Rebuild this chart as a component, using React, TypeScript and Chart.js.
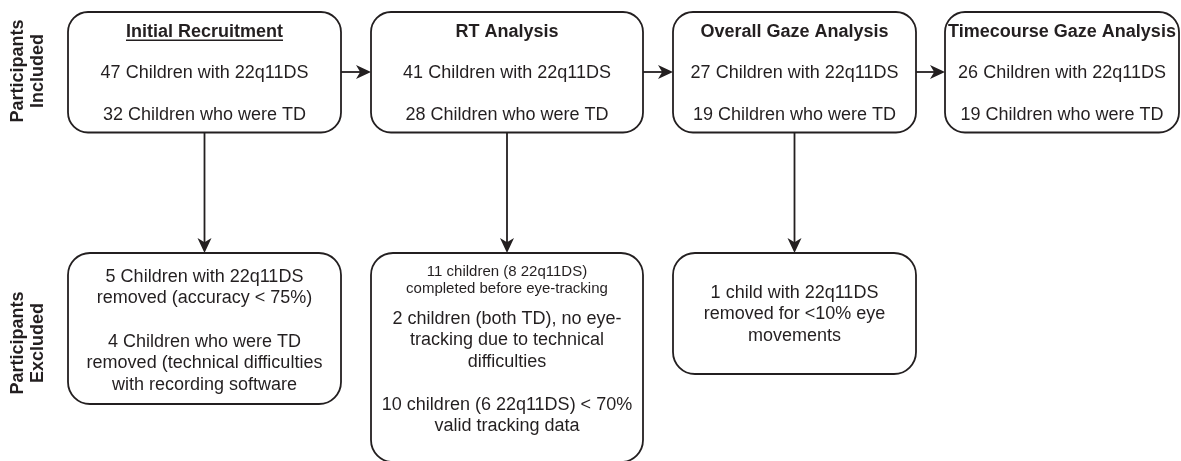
import React, { useEffect, useRef } from "react";
import { Chart, registerables } from "chart.js";

Chart.register(...registerables);

// ---------- DATA ----------
const stages = [
  "Initial Recruitment",
  "RT Analysis",
  "Overall Gaze Analysis",
  "Timecourse Gaze Analysis",
];
const included22q = [47, 41, 27, 26];
const includedTD = [32, 28, 19, 19];
const exclusionNotes: string[][][] = [
  [
    ["5 Children with 22q11DS", "removed (accuracy < 75%)"],
    ["4 Children who were TD", "removed (technical difficulties", "with recording software"],
  ],
  [
    ["11 children (8 22q11DS)", "completed before eye-tracking"],
    ["2 children (both TD), no eye-", "tracking due to technical", "difficulties"],
    ["10 children (6 22q11DS) < 70%", "valid tracking data"],
  ],
  [["1 child with 22q11DS", "removed for <10% eye", "movements"]],
];
const rowLabels = [
  ["Participants", "Included"],
  ["Participants", "Excluded"],
];

// ---------- LAYOUT (pixel-unit scale space) ----------
const W = 1181;
const H = 461;
const colLeft = [68, 371, 673, 945];
const colRight = [341, 643, 916, 1179];
const topBox = { top: 12, bottom: 132.5 };
const bottomTop = 253;
const bottomEnd = [404, 462, 374];
const titleY = 32;
const line1Y = 73;
const line2Y = 115;
const noteLayouts: { y: number; size: number; lh: number }[][] = [
  [
    { y: 277, size: 18, lh: 21.5 },
    { y: 342, size: 18, lh: 21.5 },
  ],
  [
    { y: 272, size: 15, lh: 17 },
    { y: 319, size: 18, lh: 21.5 },
    { y: 405, size: 18, lh: 21.5 },
  ],
  [{ y: 293, size: 18, lh: 21.5 }],
];

const INK = "#231f20";
const FONT = "'Liberation Sans', Arial, Helvetica, sans-serif";

function roundRect(ctx: CanvasRenderingContext2D, x0: number, y0: number, x1: number, y1: number, r: number) {
  ctx.beginPath();
  ctx.moveTo(x0 + r, y0);
  ctx.lineTo(x1 - r, y0);
  ctx.arcTo(x1, y0, x1, y0 + r, r);
  ctx.lineTo(x1, y1 - r);
  ctx.arcTo(x1, y1, x1 - r, y1, r);
  ctx.lineTo(x0 + r, y1);
  ctx.arcTo(x0, y1, x0, y1 - r, r);
  ctx.lineTo(x0, y0 + r);
  ctx.arcTo(x0, y0, x0 + r, y0, r);
  ctx.closePath();
}

function arrow(ctx: CanvasRenderingContext2D, x0: number, y0: number, x1: number, y1: number) {
  const len = Math.hypot(x1 - x0, y1 - y0);
  const dx = (x1 - x0) / len;
  const dy = (y1 - y0) / len;
  const nx = -dy;
  const ny = dx;
  const L = 15;
  const hw = 7;
  ctx.beginPath();
  ctx.moveTo(x0, y0);
  ctx.lineTo(x1 - dx * L * 0.6, y1 - dy * L * 0.6);
  ctx.stroke();
  ctx.beginPath();
  ctx.moveTo(x1, y1);
  ctx.lineTo(x1 - dx * L + nx * hw, y1 - dy * L + ny * hw);
  ctx.lineTo(x1 - dx * L * 0.72, y1 - dy * L * 0.72);
  ctx.lineTo(x1 - dx * L - nx * hw, y1 - dy * L - ny * hw);
  ctx.closePath();
  ctx.fill();
}

const flowPlugin = {
  id: "flow",
  afterDraw(chart: any) {
    const ctx: CanvasRenderingContext2D = chart.ctx;
    const xs = chart.scales.x;
    const ys = chart.scales.y;
    const px = (v: number) => xs.getPixelForValue(v);
    const py = (v: number) => ys.getPixelForValue(v);
    ctx.save();
    ctx.strokeStyle = INK;
    ctx.fillStyle = INK;
    ctx.lineWidth = 1.8;

    // included boxes
    stages.forEach((name, i) => {
      const x0 = px(colLeft[i]);
      const x1 = px(colRight[i]);
      const cx = (x0 + x1) / 2;
      roundRect(ctx, x0, py(topBox.top), x1, py(topBox.bottom), 20);
      ctx.stroke();
      ctx.textAlign = "center";
      ctx.textBaseline = "middle";
      ctx.font = `bold 18px ${FONT}`;
      ctx.fillText(name, cx, py(titleY));
      if (i === 0) {
        const w = ctx.measureText(name).width;
        ctx.fillRect(cx - w / 2, py(titleY) + 7.5, w, 1.5);
      }
      ctx.font = `18px ${FONT}`;
      ctx.fillText(`${included22q[i]} Children with 22q11DS`, cx, py(line1Y));
      ctx.fillText(`${includedTD[i]} Children who were TD`, cx, py(line2Y));
      if (i < stages.length - 1) {
        arrow(ctx, x1, py(72), px(colLeft[i + 1]), py(72));
      }
    });

    // excluded boxes
    exclusionNotes.forEach((paras, i) => {
      const x0 = px(colLeft[i]);
      const x1 = px(colRight[i]);
      const cx = (x0 + x1) / 2;
      arrow(ctx, cx, py(topBox.bottom), cx, py(bottomTop));
      roundRect(ctx, x0, py(bottomTop), x1, py(bottomEnd[i]), 22);
      ctx.stroke();
      ctx.textAlign = "center";
      ctx.textBaseline = "middle";
      paras.forEach((lines, j) => {
        const lay = noteLayouts[i][j];
        ctx.font = `${lay.size}px ${FONT}`;
        lines.forEach((ln, k) => ctx.fillText(ln, cx, py(lay.y + k * lay.lh)));
      });
    });

    // row labels
    const labelCenters = [71, 343];
    rowLabels.forEach((lines, r) => {
      ctx.save();
      ctx.translate(px(28), py(labelCenters[r]));
      ctx.rotate(-Math.PI / 2);
      ctx.font = `bold 18px ${FONT}`;
      ctx.textAlign = "center";
      ctx.textBaseline = "middle";
      lines.forEach((ln, k) => ctx.fillText(ln, 0, (k - 0.5) * 20));
      ctx.restore();
    });
    ctx.restore();
  },
};

export default function App() {
  const ref = useRef<HTMLCanvasElement | null>(null);
  useEffect(() => {
    if (!ref.current) return;
    const chart = new Chart(ref.current, {
      type: "scatter",
      data: {
        datasets: [
          {
            data: stages.map((_, i) => ({ x: (colLeft[i] + colRight[i]) / 2, y: (topBox.top + topBox.bottom) / 2 })),
            pointRadius: 0,
          },
        ],
      },
      options: {
        animation: false,
        responsive: false,
        events: [],
        layout: { padding: 0 },
        plugins: { legend: { display: false }, tooltip: { enabled: false } },
        scales: {
          x: { type: "linear", min: 0, max: W, display: false },
          y: { type: "linear", min: 0, max: H, reverse: true, display: false },
        },
      },
      plugins: [flowPlugin],
    });
    return () => chart.destroy();
  }, []);
  return (
    <div style={{ position: "absolute", left: 0, top: 0, width: W, height: H, background: "#fff" }}>
      <canvas ref={ref} width={W} height={H} style={{ display: "block" }} />
    </div>
  );
}
